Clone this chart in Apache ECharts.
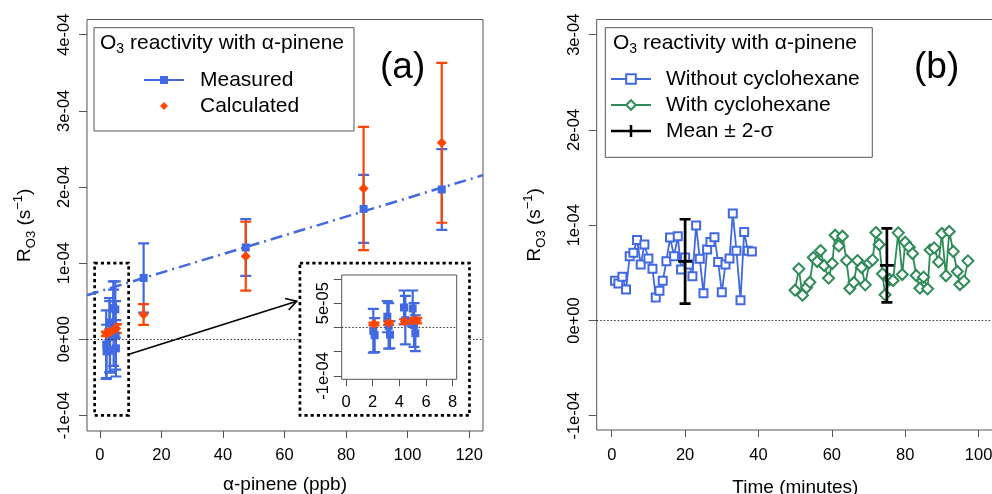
<!DOCTYPE html>
<html><head><meta charset="utf-8">
<script src="https://cdn.jsdelivr.net/npm/echarts@6/dist/echarts.min.js"></script>
<style>html,body{margin:0;padding:0;background:#fff}#c{width:992px;height:494px}</style>
</head><body><div id="c"></div>
<script>
// All R_O3 values are in units of 1e-4 s^-1 (tick labels below give the e-notation text).
// ---- Panel (a): O3 reactivity vs alpha-pinene ----
const measX   = [2.05, 2.15, 3.1, 3.2, 3.3, 4.35, 4.45, 5.0, 5.1, 5.2, 14.2, 47.4, 85.7, 111.1];
const measY   = [-0.07, -0.16, 0.22, 0.03, -0.15, 0.41, 0.15, 0.39, 0.05, -0.12, 0.805, 1.205, 1.712, 1.967];
const measErr = [0.45, 0.35, 0.32, 0.47, 0.28, 0.35, 0.50, 0.37, 0.45, 0.37, 0.455, 0.372, 0.447, 0.53];
const calcX   = [2.1, 3.2, 4.4, 5.0, 5.3, 14.2, 47.4, 85.7, 111.1];
const calcY   = [0.07, 0.09, 0.12, 0.135, 0.14, 0.324, 1.09, 1.98, 2.58];
const calcErr = [0.03, 0.037, 0.05, 0.055, 0.057, 0.136, 0.453, 0.81, 1.05];
const fitX = [-4.2, 124.5];
const fitY = [0.578, 2.155];
const xTicksA = [0, 20, 40, 60, 80, 100, 120];
const xLabelsA = ['0', '20', '40', '60', '80', '100', '120'];
const yTicksA = [-1, 0, 1, 2, 3, 4];
const yLabelsA = ['-1e-04', '0e+00', '1e-04', '2e-04', '3e-04', '4e-04'];
const xTicksIn = [0, 2, 4, 6, 8];
const xLabelsIn = ['0', '2', '4', '6', '8'];
const yTicksIn = [-1, -0.5, 0, 0.5, 1];
const yLabelValsIn = [-1, 0.5];
const yLabelsIn = ['-1e-04', '5e-05'];

// ---- Panel (b): time series ----
const tWithout = [0.9, 1.8, 2.9, 3.9, 4.9, 5.9, 6.9, 7.9, 8.9, 10, 11.1, 12, 13, 13.9, 14.9, 15.9, 17, 18, 18.9, 20, 21, 22, 23, 24, 25, 26, 26.9, 28, 29, 30, 31, 32.1, 33, 34, 35.1, 36.1, 37.1, 38.2];
const rWithout = [0.416, 0.388, 0.458, 0.325, 0.675, 0.710, 0.846, 0.587, 0.797, 0.650, 0.542, 0.241, 0.311, 0.416, 0.622, 0.871, 0.675, 0.885, 0.535, 0.661, 0.587, 0.465, 0.997, 0.647, 0.287, 0.745, 0.825, 0.874, 0.615, 0.297, 0.587, 0.650, 1.122, 0.731, 0.213, 0.930, 0.731, 0.724];
const tWith = [49.95, 51, 52, 53.1, 54, 54.95, 56, 56.9, 57.9, 59.1, 60.1, 60.9, 61.9, 62.9, 64, 64.9, 66, 67, 68.1, 69.1, 70.2, 71.1, 72, 72.9, 73.8, 74.5, 75.8, 76.7, 78.1, 79.2, 80, 81.1, 82, 83, 84, 85, 86.1, 86.8, 87.9, 89.1, 90, 91.1, 92, 93.1, 94.2, 94.9, 96, 97.1];
const rWith = [0.318, 0.542, 0.266, 0.346, 0.402, 0.661, 0.619, 0.734, 0.577, 0.444, 0.598, 0.895, 0.783, 0.885, 0.629, 0.336, 0.399, 0.629, 0.556, 0.374, 0.605, 0.636, 0.923, 0.797, 0.490, 0.269, 0.430, 0.420, 0.920, 0.483, 0.822, 0.769, 0.703, 0.472, 0.339, 0.455, 0.332, 0.741, 0.762, 0.615, 0.913, 0.469, 0.934, 0.724, 0.514, 0.378, 0.413, 0.626];
const meanT = [20, 75];
const meanR = [0.62, 0.578];
const twoSigma = [0.443, 0.388];
const xTicksB = [0, 20, 40, 60, 80, 100];
const xLabelsB = ['0', '20', '40', '60', '80', '100'];
const yTicksB = [-1, 0, 1, 2, 3];
const yLabelsB = ['-1e-04', '0e+00', '1e-04', '2e-04', '3e-04'];

const FF = "'Liberation Sans', Arial, Helvetica, sans-serif";
const BLUE = '#4169E1', RED = '#FF4500', GREEN = '#2E8B57', FRAME = '#555';

const chart = echarts.init(document.getElementById('c'), null, {renderer: 'canvas'});

function lookup(ticks, labels) { return v => { const i = ticks.findIndex(t => Math.abs(t - v) < 1e-9); return i < 0 ? '' : labels[i]; }; }

function xAx(gi, min, max, ticks, labels, name, gap, margin) {
  return {
    gridIndex: gi, type: 'value', min, max,
    axisLine: {show: false, onZero: false}, splitLine: {show: false},
    axisTick: {show: true, customValues: ticks, length: 7, lineStyle: {color: FRAME}},
    axisLabel: {customValues: ticks, formatter: lookup(ticks, labels), fontSize: 16.5, color: '#000', margin, fontFamily: FF},
    name, nameLocation: 'middle', nameGap: gap,
    nameTextStyle: {fontSize: 19, color: '#000', fontFamily: FF}
  };
}
const yName = '{m|R}{s|O3}{m| (s}{p|\u22121}{m|)}';
const yNameStyle = {
  color: '#000', fontFamily: FF, fontSize: 19,
  rich: {
    m: {fontSize: 19, lineHeight: 26, verticalAlign: 'middle', fontFamily: FF, color: '#000'},
    s: {fontSize: 13, lineHeight: 13, verticalAlign: 'bottom', fontFamily: FF, color: '#000'},
    p: {fontSize: 13, lineHeight: 13, verticalAlign: 'top', fontFamily: FF, color: '#000'}
  }
};
function yAx(gi, min, max, ticks, labVals, labels, name, gap, margin) {
  return {
    gridIndex: gi, type: 'value', min, max,
    axisLine: {show: false, onZero: false}, splitLine: {show: false},
    axisTick: {show: true, customValues: ticks, length: 8, lineStyle: {color: FRAME}},
    axisLabel: {customValues: labVals, formatter: lookup(labVals, labels), rotate: 90, fontSize: 16.5, color: '#000', margin, fontFamily: FF},
    name, nameLocation: 'middle', nameGap: gap, nameRotate: 90, nameTextStyle: yNameStyle
  };
}

function errSeries(name, xi, xs, ys, es, color, lw, hw, z, meanHw) {
  return {
    type: 'custom', name, xAxisIndex: xi, yAxisIndex: xi, silent: true, z, clip: true,
    itemStyle: {color},
    data: xs.map((x, i) => [x, ys[i], es[i]]), encode: {x: 0, y: 1},
    renderItem: (p, api) => {
      const x = api.value(0), y = api.value(1), e = api.value(2);
      const t = api.coord([x, y + e]), b = api.coord([x, y - e]);
      const st = {stroke: color, lineWidth: lw};
      const ch = [
        {type: 'line', shape: {x1: t[0], y1: t[1], x2: b[0], y2: b[1]}, style: st},
        {type: 'line', shape: {x1: t[0] - hw, y1: t[1], x2: t[0] + hw, y2: t[1]}, style: st},
        {type: 'line', shape: {x1: b[0] - hw, y1: b[1], x2: b[0] + hw, y2: b[1]}, style: st}
      ];
      if (meanHw) {
        const m = api.coord([x, y]);
        ch.push({type: 'line', shape: {x1: m[0] - meanHw, y1: m[1], x2: m[0] + meanHw, y2: m[1]}, style: st});
      }
      return {type: 'group', children: ch};
    }
  };
}
function pts(xs, ys) { return xs.map((x, i) => [x, ys[i]]); }

const zeroLineStyle = {color: '#333', width: 1, type: [1.5, 2]};
const titleRich = {
  n: {fontSize: 21, lineHeight: 26, verticalAlign: 'middle', fontFamily: FF, fill: '#000'},
  s: {fontSize: 14, lineHeight: 14, verticalAlign: 'bottom', fontFamily: FF, fill: '#000'}
};

const option = {
  animation: false,
  textStyle: {fontFamily: FF},
  title: [
    {text: '(a)', left: 375, top: 44, textStyle: {fontSize: 37, fontWeight: 'normal', color: '#000', fontFamily: FF}},
    {text: '(b)', left: 909, top: 44, textStyle: {fontSize: 37, fontWeight: 'normal', color: '#000', fontFamily: FF}}
  ],
  grid: [
    {left: 87, right: 509, top: 19.5, bottom: 63, show: true, borderColor: FRAME, borderWidth: 1, backgroundColor: 'transparent', outerBoundsMode: 'none', containLabel: false},
    {left: 341.7, right: 535.3, top: 275, bottom: 114.7, show: true, borderColor: FRAME, borderWidth: 1, backgroundColor: '#fff', z: 3, outerBoundsMode: 'none', containLabel: false},
    {left: 596.7, right: -2, top: 19.5, bottom: 64, show: true, borderColor: FRAME, borderWidth: 1, backgroundColor: 'transparent', outerBoundsMode: 'none', containLabel: false}
  ],
  xAxis: [
    xAx(0, -4.2, 124.5, xTicksA, xLabelsA, '\u03B1-pinene (ppb)', 44, 16),
    Object.assign(xAx(1, -0.32, 8.3, xTicksIn, xLabelsIn, '', 0, 15), {z: 4}),
    xAx(2, -4.1, 104.2, xTicksB, xLabelsB, 'Time (minutes)', 48, 17)
  ],
  yAxis: [
    yAx(0, -1.206, 4.2, yTicksA, yTicksA, yLabelsA, yName, 49, 14),
    Object.assign(yAx(1, -1.07, 1.08, yTicksIn, yLabelValsIn, yLabelsIn, '', 0, 10), {z: 4}),
    yAx(2, -1.15, 3.16, yTicksB, yTicksB, yLabelsB, yName, 49, 14)
  ],
  legend: [
    {
      left: 144, top: 67, orient: 'vertical', itemWidth: 40, itemHeight: 8, itemGap: 0, padding: 0,
      selectedMode: false,
      textStyle: {fontSize: 21, lineHeight: 26, color: '#000', fontFamily: FF, padding: [0, 0, 0, 11]},
      data: [
        {name: 'Measured', icon: 'path://M0,3 L40,3 L40,5 L0,5 Z M16,0 L24,0 L24,8 L16,8 Z'},
        {name: 'Calculated', icon: 'path://M20,0 L24,4 L20,8 L16,4 Z'}
      ]
    },
    {
      left: 610, top: 66, orient: 'vertical', itemWidth: 40, itemHeight: 12, itemGap: 0, padding: 0,
      selectedMode: false,
      textStyle: {fontSize: 21, lineHeight: 26, color: '#000', fontFamily: FF, padding: [0, 0, 0, 10]},
      data: [
        {name: 'Without cyclohexane'},
        {name: 'With cyclohexane'},
        {name: 'Mean \u00B1 2-\u03C3', icon: 'path://M0,4.75 L40,4.75 L40,7.25 L0,7.25 Z M18.75,0 L21.25,0 L21.25,12 L18.75,12 Z'}
      ]
    }
  ],
  graphic: [
    {type: 'rect', shape: {x: 94, y: 27.7, width: 260, height: 103.3}, style: {fill: 'none', stroke: FRAME, lineWidth: 1}, z: 5},
    {type: 'text', x: 100, y: 43, z: 5, style: {text: '{n|O}{s|3}{n| reactivity with \u03B1-pinene}', verticalAlign: 'middle', align: 'left', rich: titleRich}},
    {type: 'rect', shape: {x: 605.3, y: 27.7, width: 267, height: 129.6}, style: {fill: 'none', stroke: FRAME, lineWidth: 1}, z: 5},
    {type: 'text', x: 613, y: 43, z: 5, style: {text: '{n|O}{s|3}{n| reactivity with \u03B1-pinene}', verticalAlign: 'middle', align: 'left', rich: titleRich}}
  ],
  series: [
    // panel (a)
    {
      type: 'line', name: 'Linear fit', xAxisIndex: 0, yAxisIndex: 0, data: pts(fitX, fitY), symbol: 'none', silent: true,
      lineStyle: {color: BLUE, width: 2.5, type: [12, 5, 2, 5]}, z: 1,
      markLine: {silent: true, symbol: ['none', 'none'], label: {show: false}, lineStyle: zeroLineStyle,
        data: [[{coord: [-4.2, 0]}, {coord: [65, 0]}], [{coord: [120.1, 0]}, {coord: [124.5, 0]}]]}
    },
    {
      type: 'custom', name: 'zoom boxes', xAxisIndex: 0, yAxisIndex: 0, silent: true, z: 1,
      data: [[-1.72, 9.33, -1, 1], [65.0, 120.1, -1, 1]], encode: {x: 0, y: 2},
      renderItem: (p, api) => {
        const a = api.coord([api.value(0), api.value(3)]), b = api.coord([api.value(1), api.value(2)]);
        return {type: 'rect', shape: {x: a[0], y: a[1], width: b[0] - a[0], height: b[1] - a[1]},
          style: {fill: 'none', stroke: '#000', lineWidth: 2.7, lineDash: [3.2, 3]}};
      }
    },
    {
      type: 'custom', name: 'zoom arrow', xAxisIndex: 0, yAxisIndex: 0, silent: true, z: 1,
      data: [[9.2, -0.2, 63.97, 0.5]], encode: {x: 0, y: 1},
      renderItem: (p, api) => {
        const a = api.coord([api.value(0), api.value(1)]), b = api.coord([api.value(2), api.value(3)]);
        const ang = Math.atan2(b[1] - a[1], b[0] - a[0]), L = 12, w = Math.PI / 6;
        const h1 = [b[0] - L * Math.cos(ang - w), b[1] - L * Math.sin(ang - w)];
        const h2 = [b[0] - L * Math.cos(ang + w), b[1] - L * Math.sin(ang + w)];
        return {type: 'group', children: [
          {type: 'line', shape: {x1: a[0], y1: a[1], x2: b[0], y2: b[1]}, style: {stroke: '#000', lineWidth: 1.6}},
          {type: 'polyline', shape: {points: [h1, b, h2]}, style: {stroke: '#000', lineWidth: 1.6, fill: null}}
        ]};
      }
    },
    errSeries('Measured error', 0, measX, measY, measErr, BLUE, 2.2, 5.5, 2),
    errSeries('Calculated error', 0, calcX, calcY, calcErr, RED, 2.2, 5.5, 2),
    {type: 'scatter', name: 'Measured', xAxisIndex: 0, yAxisIndex: 0, data: pts(measX, measY), symbol: 'rect', symbolSize: 8, itemStyle: {color: BLUE, opacity: 1}, z: 3},
    {type: 'scatter', name: 'Calculated', xAxisIndex: 0, yAxisIndex: 0, data: pts(calcX, calcY), symbol: 'diamond', symbolSize: 10, itemStyle: {color: RED, opacity: 1}, z: 3},
    // inset of panel (a)
    {
      type: 'line', name: 'inset zero', xAxisIndex: 1, yAxisIndex: 1, data: [], silent: true, z: 4,
      markLine: {silent: true, symbol: ['none', 'none'], label: {show: false}, lineStyle: zeroLineStyle, data: [{yAxis: 0}]}
    },
    errSeries('Measured error inset', 1, measX, measY, measErr, BLUE, 2.2, 5.5, 5),
    errSeries('Calculated error inset', 1, calcX, calcY, calcErr, RED, 2.2, 5.5, 5),
    {type: 'scatter', name: 'Measured inset', xAxisIndex: 1, yAxisIndex: 1, data: pts(measX, measY), symbol: 'rect', symbolSize: 8, itemStyle: {color: BLUE, opacity: 1}, z: 6, clip: true},
    {type: 'scatter', name: 'Calculated inset', xAxisIndex: 1, yAxisIndex: 1, data: pts(calcX, calcY), symbol: 'diamond', symbolSize: 10, itemStyle: {color: RED, opacity: 1}, z: 6, clip: true},
    // panel (b)
    {
      type: 'line', name: 'Without cyclohexane', xAxisIndex: 2, yAxisIndex: 2, data: pts(tWithout, rWithout),
      symbol: 'emptyRect', symbolSize: 8, showSymbol: true,
      lineStyle: {color: BLUE, width: 1.8}, itemStyle: {color: BLUE, borderWidth: 1.8}, z: 2,
      markLine: {silent: true, symbol: ['none', 'none'], label: {show: false}, lineStyle: zeroLineStyle, data: [{yAxis: 0}]}
    },
    {
      type: 'line', name: 'With cyclohexane', xAxisIndex: 2, yAxisIndex: 2, data: pts(tWith, rWith),
      symbol: 'emptyDiamond', symbolSize: 11, showSymbol: true,
      lineStyle: {color: GREEN, width: 1.8}, itemStyle: {color: GREEN, borderWidth: 1.8}, z: 2
    },
    errSeries('Mean \u00B1 2-\u03C3', 2, meanT, meanR, twoSigma, '#000', 2.7, 5.5, 3, 7)
  ]
};
chart.setOption(option);
</script></body></html>
